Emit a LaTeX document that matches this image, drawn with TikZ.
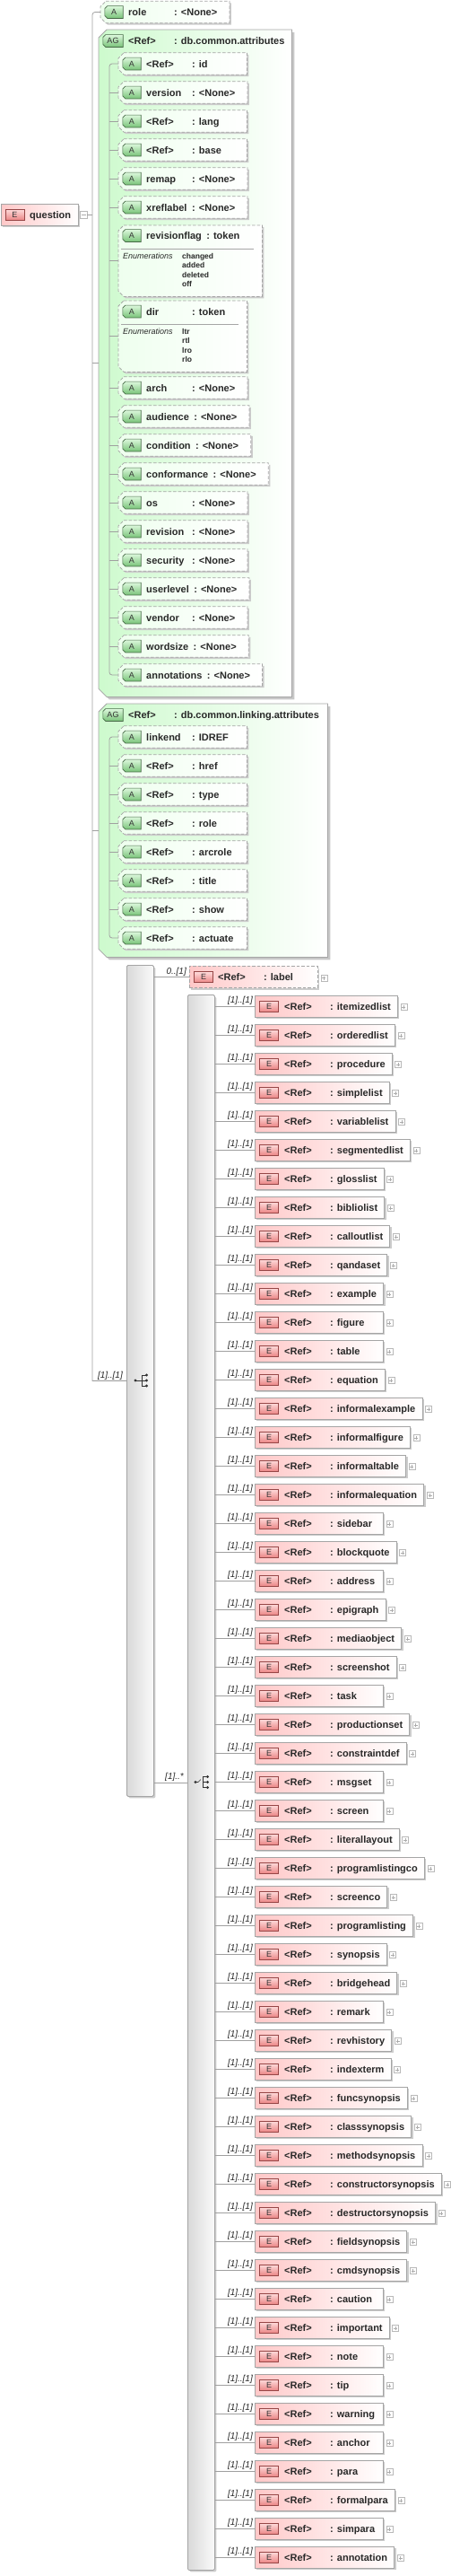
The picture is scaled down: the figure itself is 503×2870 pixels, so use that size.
\documentclass[tikz,border=0pt]{standalone}
\usepackage{fontspec}
\setmainfont{Liberation Sans}
\usetikzlibrary{shadows,calc}
\newcommand\mytf{\fontsize{11}{13}\selectfont\bfseries}
\definecolor{Epink}{RGB}{255,200,200}
\definecolor{AGgreen}{RGB}{205,250,205}
\definecolor{Agreen}{RGB}{238,255,238}
\definecolor{bdr}{RGB}{165,165,165}
\definecolor{lineg}{RGB}{160,160,160}
\definecolor{txtc}{RGB}{40,40,40}
\definecolor{Abtop}{RGB}{220,248,220}
\definecolor{Abbot}{RGB}{120,195,120}
\definecolor{Abdr}{RGB}{70,105,70}
\definecolor{Ebtop}{RGB}{255,220,220}
\definecolor{Ebbot}{RGB}{235,135,135}
\definecolor{Ebdr}{RGB}{150,70,70}
\tikzset{
 conn/.style={draw=lineg, line width=0.8pt},
 txt/.style={font=\mytf, text=txtc, inner sep=0pt, anchor=base west},
 mult/.style={font=\fontsize{10}{12}\selectfont\itshape, text=txtc, inner sep=0pt, anchor=base east},
 shad/.style={drop shadow={shadow xshift=2pt, shadow yshift=-2pt, fill=black!20, opacity=1}},
 ebox/.style={shad, draw=bdr, line width=0.75pt, left color=Epink, right color=white, minimum height=24pt, inner sep=0pt, anchor=west},
 eopt/.style={ebox, dash pattern=on 3.5pt off 2pt},
 abox/.style={shad, draw=bdr, line width=0.75pt, dash pattern=on 3.5pt off 2pt, left color=Agreen, right color=white},
 agbox/.style={drop shadow={shadow xshift=3pt, shadow yshift=-3pt, fill=black!22, opacity=1}, draw=bdr, line width=0.75pt, left color=AGgreen, right color=white},
 badgeA/.style={draw=Abdr, line width=0.6pt, top color=Abtop, bottom color=Abbot},
 ebadge/.style={draw=Ebdr, line width=0.6pt, top color=Ebtop, bottom color=Ebbot, minimum width=21pt, minimum height=12pt, inner sep=0pt, font=\fontsize{9}{10}\selectfont, text=black!80},
 bar/.style={shad, draw=bdr, line width=0.75pt, left color=gray!30, right color=gray!4, rounded corners=1.5pt, inner sep=0pt},
 plusbox/.style={draw=gray!55, fill=white, minimum size=7pt, inner sep=0pt,
   path picture={\draw[gray!65,line width=0.5pt] ([xshift=1.5pt]path picture bounding box.west) -- ([xshift=-1.5pt]path picture bounding box.east) ([yshift=-1.5pt]path picture bounding box.north) -- ([yshift=1.5pt]path picture bounding box.south);}},
 minusbox/.style={draw=gray!55, fill=white, minimum size=8pt, inner sep=0pt,
   path picture={\draw[gray!65,line width=0.5pt] ([xshift=1.5pt]path picture bounding box.west) -- ([xshift=-1.5pt]path picture bounding box.east);}},
 enumlab/.style={font=\fontsize{9}{10}\selectfont\itshape, text=txtc, inner sep=0pt, anchor=base west},
 enumval/.style={font=\fontsize{8.5}{10}\selectfont\bfseries, text=txtc, inner sep=0pt, anchor=base west},
 ghost/.style={inner sep=0pt}
}
% chamfered outline around a named node
\newcommand\mychamf[3]{\path[#3] ([xshift=#2]#1.north west) -- (#1.north east) -- (#1.south east) -- ([xshift=#2]#1.south west) -- ([yshift=#2]#1.south west) -- ([yshift=-#2]#1.north west) -- cycle;}
% A / AG badge: name, x, y, text, width
\newcommand\mybadge[5]{%
  \node[ghost, minimum width=#5pt, minimum height=13.5pt] (#1) at (#2,#3) {};
  \mychamf{#1}{3pt}{badgeA}
  \node[font=\fontsize{9}{10}\selectfont, text=black!80, inner sep=0pt] (#1-t) at (#1.center) {#4};
}
% attribute row: id, left x, y centre, name, type
\newcommand\myattr[5]{%
  \node[txt] (#1-pn) at (#2+31,#3+4) {\phantom{#4}};
  \path let \p1=(#1-pn.base east) in coordinate (#1-c) at ({max(#2+82,\x1+5)},#3+4);
  \node[txt] (#1-pt) at (#1-c) {\phantom{#5}};
  \path let \p2=(#1-pt.base east) in node[ghost, minimum width={max(143,\x2+13-#2)}, minimum height=24pt, anchor=west] (#1) at (#2,#3) {};
  \mychamf{#1}{6pt}{abox}
  \mybadge{#1-b}{#2+15}{#3}{A}{20}
  \node[txt] (#1-n) at (#2+31,#3+4) {#4};
  \node[txt] (#1-t) at (#1-c) {#5};
}
% element row in the choice: id, y centre, name
\newcommand\myel[3]{%
  \node[txt] (#1-w) at (368,#2+4) {\phantom{: #3}};
  \path let \p1=(#1-w.base east) in node[ebox, minimum width={max(143,\x1+7-284)}] (#1) at (284,#2) {};
  \node[ebadge] (#1-b) at (300,#2) {E};
  \node[txt] (#1-r) at (317,#2+4) {<Ref>};
  \node[txt] (#1-n) at (368,#2+4) {: #3};
  \node[plusbox] (#1-p) at ([xshift=6.5pt,yshift=-1pt]#1.east) {};
  \draw[conn] (ch.east |- #1.west) -- (#1.west);
  \node[mult] (#1-m) at (282,#2-3.5) {[1]..[1]};
}
\begin{document}
\begin{tikzpicture}[x=1pt,y=-1pt]
\useasboundingbox (0,0) rectangle (503,2870);

% ---------- question ----------
\node[ebox, minimum width=86pt] (q) at (1,239) {};
\node[ebadge] (q-b) at (16.5,239) {E};
\node[txt] (q-n) at (33,243) {question};
\node[minusbox] (q-m) at (93,239) {};
\coordinate (tr) at (103,239);

% ---------- role ----------
\myattr{role}{112}{13.5}{role}{: <None>}

% ---------- AG common ----------
\node[ghost, minimum width=215pt, minimum height=743pt, anchor=north west] (agc) at (110,33) {};
\mychamf{agc}{9pt}{agbox}
\mybadge{agc-b}{126}{45.5}{AG}{22}
\node[txt] (agc-r) at (143,49.5) {<Ref>};
\node[txt] (agc-n) at (194,49.5) {: db.common.attributes};

\myattr{a-id}{132}{71}{<Ref>}{: id}
\myattr{a-version}{132}{103}{version}{: <None>}
\myattr{a-lang}{132}{135}{<Ref>}{: lang}
\myattr{a-base}{132}{167}{<Ref>}{: base}
\myattr{a-remap}{132}{199}{remap}{: <None>}
\myattr{a-xreflabel}{132}{231}{xreflabel}{: <None>}

% revisionflag
\node[ghost, minimum width=160pt, minimum height=79pt, anchor=north west] (a-rf) at (132,251) {};
\mychamf{a-rf}{6pt}{abox}
\mybadge{a-rf-b}{147}{262.5}{A}{20}
\node[txt] (a-rf-n) at (163,266.5) {revisionflag};
\node[txt] (a-rf-t) at ([xshift=5pt]a-rf-n.base east) {: token};
\draw[gray!70, line width=0.6pt] (135,277) -- (283,277);
\node[enumlab] (a-rf-e) at (137,288) {Enumerations};
\node[enumval] (a-rf-v1) at (203,288) {changed};
\node[enumval] (a-rf-v2) at (203,298.5) {added};
\node[enumval] (a-rf-v3) at (203,309) {deleted};
\node[enumval] (a-rf-v4) at (203,319.5) {off};

% dir
\node[ghost, minimum width=143pt, minimum height=79pt, anchor=north west] (a-dir) at (132,335) {};
\mychamf{a-dir}{6pt}{abox}
\mybadge{a-dir-b}{147}{347}{A}{20}
\node[txt] (a-dir-n) at (163,351) {dir};
\node[txt] (a-dir-t) at (214,351) {: token};
\draw[gray!70, line width=0.6pt] (135,361) -- (266,361);
\node[enumlab] (a-dir-e) at (137,372) {Enumerations};
\node[enumval] (a-dir-v1) at (203,372) {ltr};
\node[enumval] (a-dir-v2) at (203,382.5) {rtl};
\node[enumval] (a-dir-v3) at (203,393) {lro};
\node[enumval] (a-dir-v4) at (203,403.5) {rlo};

\myattr{a-arch}{132}{432}{arch}{: <None>}
\myattr{a-audience}{132}{464}{audience}{: <None>}
\myattr{a-condition}{132}{496}{condition}{: <None>}
\myattr{a-conformance}{132}{528}{conformance}{: <None>}
\myattr{a-os}{132}{560}{os}{: <None>}
\myattr{a-revision}{132}{592}{revision}{: <None>}
\myattr{a-security}{132}{624}{security}{: <None>}
\myattr{a-userlevel}{132}{656}{userlevel}{: <None>}
\myattr{a-vendor}{132}{688}{vendor}{: <None>}
\myattr{a-wordsize}{132}{720}{wordsize}{: <None>}
\myattr{a-annotations}{132}{752}{annotations}{: <None>}

\coordinate (cvc) at (122,71);
\draw[conn, rounded corners=3pt] (a-id.west) -- (a-id.west -| cvc) |- (a-annotations.west);
\foreach \k in {a-version,a-lang,a-base,a-remap,a-xreflabel,a-rf,a-dir,a-arch,a-audience,a-condition,a-conformance,a-os,a-revision,a-security,a-userlevel,a-vendor,a-wordsize}
  \draw[conn] (\k.west -| cvc) -- (\k.west);

% ---------- AG linking ----------
\node[ghost, minimum width=255pt, minimum height=282pt, anchor=north west] (agl) at (110,784) {};
\mychamf{agl}{9pt}{agbox}
\mybadge{agl-b}{126}{796.5}{AG}{22}
\node[txt] (agl-r) at (143,800.5) {<Ref>};
\node[txt] (agl-n) at (194,800.5) {: db.common.linking.attributes};

\myattr{l-linkend}{132}{821}{linkend}{: IDREF}
\myattr{l-href}{132}{853}{<Ref>}{: href}
\myattr{l-type}{132}{885}{<Ref>}{: type}
\myattr{l-role}{132}{917}{<Ref>}{: role}
\myattr{l-arcrole}{132}{949}{<Ref>}{: arcrole}
\myattr{l-title}{132}{981}{<Ref>}{: title}
\myattr{l-show}{132}{1013}{<Ref>}{: show}
\myattr{l-actuate}{132}{1045}{<Ref>}{: actuate}

\coordinate (cvl) at (122,821);
\draw[conn, rounded corners=3pt] (l-linkend.west) -- (l-linkend.west -| cvl) |- (l-actuate.west);
\foreach \k in {l-href,l-type,l-role,l-arcrole,l-title,l-show}
  \draw[conn] (\k.west -| cvl) -- (\k.west);

% ---------- sequence and choice bars ----------
\node[bar, minimum width=30pt, minimum height=926pt, anchor=north west] (seq) at (141,1075) {};
\node[bar, minimum width=30pt, minimum height=1755pt, anchor=north west] (ch) at (209,1108) {};

% sequence icon
\begin{scope}[shift={(157,1538)}, line width=0.6pt, black!80]
  \fill (-6,0) circle (1.7pt);
  \draw (-6,0) -- (6,0) (1,-6) -- (1,6) (1,-6) -- (6,-6) (1,6) -- (6,6);
  \fill (6.5,-6) circle (1.7pt) (6.5,0) circle (1.7pt) (6.5,6) circle (1.7pt);
\end{scope}
% choice icon
\begin{scope}[shift={(225,1985.5)}, line width=0.6pt, black!80]
  \fill (-7,0) circle (1.7pt);
  \draw (-7,0) -- (-4,0) -- (-1,-3);
  \draw (1,-6) -- (1,6) (1,-6) -- (6,-6) (1,0) -- (6,0) (1,6) -- (6,6);
  \fill (6.5,-6) circle (1.7pt) (6.5,0) circle (1.7pt) (6.5,6) circle (1.7pt);
\end{scope}

% ---------- trunk connectors ----------
\draw[conn] (q-m.east) -- (tr);
\draw[conn] (role.west) [rounded corners=3pt] -| (tr) [sharp corners] |- (seq.west);
\draw[conn] (tr |- agc.west) -- (agc.west);
\draw[conn] (tr |- agl.west) -- (agl.west);
\node[mult] (seq-m) at (137,1535) {[1]..[1]};

% ---------- label ----------
\node[eopt, minimum width=143pt] (lab) at (211,1088.5) {};
\node[ebadge] (lab-b) at (227,1088.5) {E};
\node[txt] (lab-r) at (243,1092.5) {<Ref>};
\node[txt] (lab-n) at (294,1092.5) {: label};
\node[plusbox] (lab-p) at ([xshift=6.5pt,yshift=-1pt]lab.east) {};
\draw[conn] (seq.east |- lab.west) -- (lab.west);
\node[mult] (lab-m) at (208,1085) {0..[1]};

% ---------- choice ----------
\draw[conn] (seq.east |- ch.west) -- (ch.west);
\node[mult] (ch-m) at (205,1982) {[1]..*};

\foreach \nm [count=\i] in {itemizedlist,orderedlist,procedure,simplelist,variablelist,segmentedlist,glosslist,bibliolist,calloutlist,qandaset,example,figure,table,equation,informalexample,informalfigure,informaltable,informalequation,sidebar,blockquote,address,epigraph,mediaobject,screenshot,task,productionset,constraintdef,msgset,screen,literallayout,programlistingco,screenco,programlisting,synopsis,bridgehead,remark,revhistory,indexterm,funcsynopsis,classsynopsis,methodsynopsis,constructorsynopsis,destructorsynopsis,fieldsynopsis,cmdsynopsis,caution,important,note,tip,warning,anchor,para,formalpara,simpara,annotation}{
  \pgfmathsetmacro\yy{1121+32*(\i-1)}
  \myel{c\i}{\yy}{\nm}
}
\end{tikzpicture}
\end{document}
